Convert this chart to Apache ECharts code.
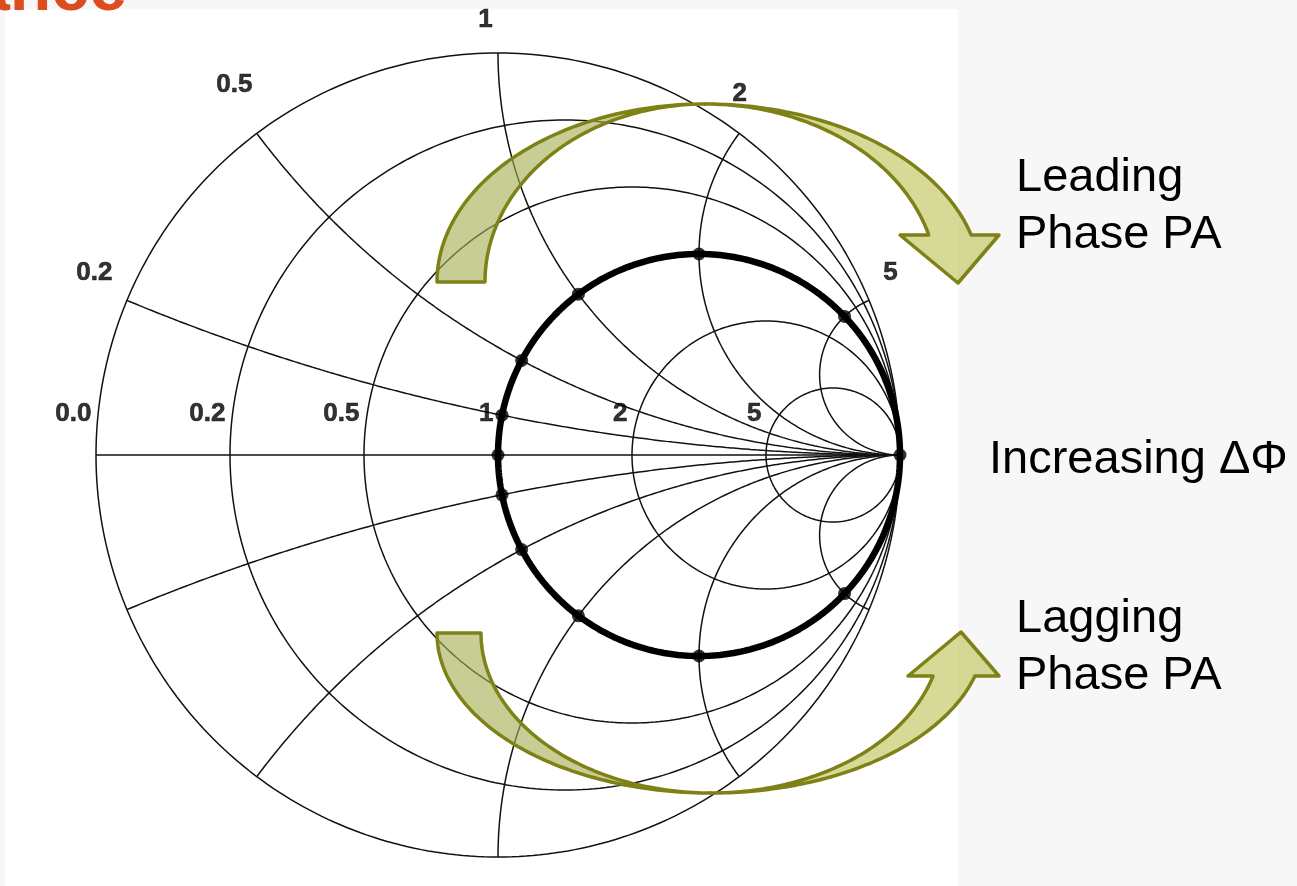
<!DOCTYPE html>
<html>
<head>
<meta charset="utf-8">
<script src="https://cdn.jsdelivr.net/npm/echarts@6/dist/echarts.min.js"></script>
<style>
html,body{margin:0;padding:0;background:#f7f7f7;}
#c{width:1297px;height:886px;}
</style>
</head>
<body>
<div id="c"></div>
<script>
// ---------------- data ----------------
const R_VALUES = [0, 0.2, 0.5, 1, 2, 5];            // constant-resistance circles
const R_LABELS = ['0.0', '0.2', '0.5', '1', '2', '5'];
const X_VALUES = [0.2, 0.5, 1, 2, 5];                // constant-reactance arcs (+ and -)
const X_LABELS = ['0.2', '0.5', '1', '2', '5'];
const LOAD_R = 1;                                    // load trajectory (thick circle)
const LOAD_X_POINTS = [0, 0.2, -0.2, 0.5, -0.5, 1, -1, 2, -2, 5, -5, Infinity];
const TEXT_LEADING = ['Leading', 'Phase PA'];
const TEXT_LAGGING = ['Lagging', 'Phase PA'];
const TEXT_MIDDLE = 'Increasing ΔΦ';
const TITLE = 'Impedance';
// label nudges (layout only, pixels)
const X_LABEL_NUDGE = [[-32, -27], [-22, -48], [-12, -33], [1, -39], [22, -27]];

// ---------------- helpers ----------------
function gamma(r, x) {
  if (!isFinite(r) || !isFinite(x)) return [1, 0];
  const d = (r + 1) * (r + 1) + x * x;
  return [(r * r + x * x - 1) / d, 2 * x / d];
}
function rCircle(r) {
  const c = r / (1 + r), rho = 1 / (1 + r), pts = [];
  for (let k = 0; k <= 360; k++) {
    const a = k * Math.PI / 180;
    pts.push([c + rho * Math.cos(a), rho * Math.sin(a)]);
  }
  return pts;
}
function xArc(x) {
  const N = 700, pts = [];
  for (let k = 0; k < N; k++) {
    const t = k / N * Math.PI / 2;
    pts.push(gamma(Math.tan(t), x));
  }
  pts.push([1, 0]);
  return pts;
}
const LINE_COLOR = '#111111';
function gridLine(data) {
  return {
    type: 'line', data: data, showSymbol: false, symbol: 'none', clip: false,
    silent: true, animation: false, z: 2,
    lineStyle: { color: LINE_COLOR, width: 1.5 }
  };
}

const series = [];
R_VALUES.forEach(r => series.push(gridLine(rCircle(r))));
series.push(gridLine([[-1, 0], [1, 0]]));
X_VALUES.forEach(x => { series.push(gridLine(xArc(x))); series.push(gridLine(xArc(-x))); });

// load trajectory
series.push({
  type: 'line', data: rCircle(LOAD_R), showSymbol: false, symbol: 'none', clip: false,
  silent: true, animation: false, z: 3,
  lineStyle: { color: '#000', width: 6.5 }
});
series.push({
  type: 'scatter', data: LOAD_X_POINTS.map(x => gamma(LOAD_R, x)), symbol: 'circle',
  symbolSize: 13, clip: false, silent: true, animation: false, z: 4,
  itemStyle: { color: '#000' }
});

const LABEL_FONT = { fontFamily: 'Liberation Sans', fontWeight: 'bold', fontSize: 26, color: '#000',
  textBorderColor: '#000', textBorderWidth: 0.6 };
series.push({
  type: 'scatter', symbolSize: 1, clip: false, silent: true, animation: false, z: 5,
  itemStyle: { color: 'rgba(0,0,0,0)' },
  data: R_VALUES.map((r, i) => ({ value: gamma(r, 0), name: R_LABELS[i] })),
  label: Object.assign({ show: true, formatter: '{b}', position: 'left', distance: 4, offset: [0, -41] }, LABEL_FONT)
});
series.push({
  type: 'scatter', symbolSize: 1, clip: false, silent: true, animation: false, z: 5,
  itemStyle: { color: 'rgba(0,0,0,0)' },
  data: X_VALUES.map((x, i) => ({
    value: gamma(0, x), name: X_LABELS[i],
    label: { position: X_LABEL_NUDGE[i] }
  })),
  label: Object.assign({ show: true, formatter: '{b}', align: 'center', verticalAlign: 'middle' }, LABEL_FONT)
});

// ---------------- decorations (curved arrows, texts) ----------------
function ell(cx, cy, rx, ry, a0, a1, dir, n) {
  const pts = [];
  for (let i = 0; i <= n; i++) {
    const a = (a0 + (a1 - a0) * i / n) * Math.PI / 180;
    pts.push([cx + rx * Math.cos(a), cy + dir * ry * Math.sin(a)]);
  }
  return pts;
}
function curvedArrow(o) {
  const ae = Math.asin(Math.abs(o.headY - o.cy) / o.ry) * 180 / Math.PI;
  const left = ell(o.cx, o.cy, o.tailOut, o.ry, 180, 90, o.dir, 80)
    .concat(ell(o.cx, o.cy, o.tailIn, o.ry, 90, 180, o.dir, 80));
  const right = ell(o.cx, o.cy, o.shaftOut, o.ry, 90, ae, o.dir, 80)
    .concat([[o.headR, o.headY], o.tip, [o.headL, o.headY]],
            ell(o.cx, o.cy, o.shaftIn, o.ry, ae, 90, o.dir, 80));
  return [left, right];
}
const upA = curvedArrow({ cx: 705, cy: 282, ry: 178, dir: -1, tailOut: 268, tailIn: 220,
  shaftOut: 276, shaftIn: 232, headY: 235, headL: 900, headR: 999, tip: [958, 283] });
const loA = curvedArrow({ cx: 711, cy: 633, ry: 160, dir: 1, tailOut: 274, tailIn: 230,
  shaftOut: 274, shaftIn: 230.5, headY: 676, headL: 908, headR: 999, tip: [961, 632] });
const ARROW_STROKE = '#7d8116';
function arrowPoly(points, fill) {
  return { type: 'polygon', z: 50, silent: true, shape: { points: points },
    style: { fill: fill, stroke: ARROW_STROKE, lineWidth: 3.5, lineJoin: 'round' } };
}
function txt(text, x, y, font, fill, align) {
  return { type: 'text', z: 60, silent: true, x: x, y: y,
    style: { text: text, font: font, fill: fill, align: align || 'left', textAlign: align || 'left',
             verticalAlign: 'middle', textVerticalAlign: 'middle' } };
}
const BIG = '47px "Liberation Sans"';
const graphic = [
  { type: 'rect', z: 0, silent: true, shape: { x: 5, y: 9, width: 953, height: 877 }, style: { fill: '#ffffff' } },
  arrowPoly(upA[0], 'rgba(167,174,86,0.62)'),
  arrowPoly(upA[1], 'rgba(189,195,86,0.62)'),
  arrowPoly(loA[0], 'rgba(167,174,86,0.62)'),
  arrowPoly(loA[1], 'rgba(189,195,86,0.62)'),
  txt(TITLE, 127, -9, 'bold 68px "Liberation Sans"', '#dc4c1e', 'right'),
  txt(TEXT_LEADING[0], 1016, 178, BIG, '#000'),
  txt(TEXT_LEADING[1], 1016, 235, BIG, '#000'),
  txt(TEXT_MIDDLE, 989, 460, BIG, '#000'),
  txt(TEXT_LAGGING[0], 1016, 619, BIG, '#000'),
  txt(TEXT_LAGGING[1], 1016, 676, BIG, '#000')
];

const chart = echarts.init(document.getElementById('c'), null, { renderer: 'canvas' });
chart.setOption({
  backgroundColor: '#f7f7f7',
  animation: false,
  grid: { left: 96, top: 53, width: 804, height: 804, containLabel: false },
  xAxis: { type: 'value', min: -1, max: 1, show: false },
  yAxis: { type: 'value', min: -1, max: 1, show: false },
  series: series,
  graphic: graphic
});
</script>
</body>
</html>
